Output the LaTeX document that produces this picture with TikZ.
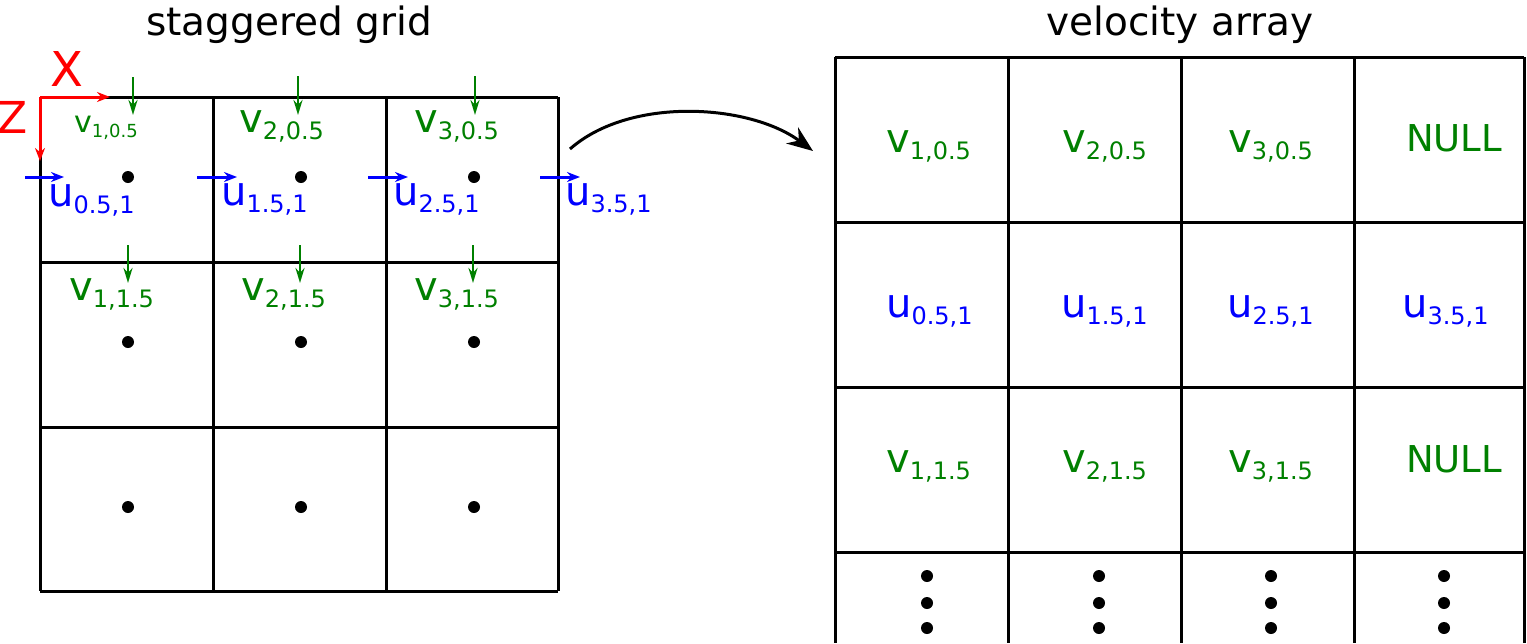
\documentclass[tikz,border=0pt]{standalone}
\usepackage{fontspec}
\setmainfont{DejaVu Sans}
\usetikzlibrary{arrows.meta}
\definecolor{vgreen}{RGB}{0,128,0}
\newcommand{\lowidx}[1]{\raisebox{-7pt}{\fontsize{24}{24}\selectfont #1}}
\newcommand{\smallidx}[1]{\raisebox{-5pt}{\fontsize{18}{18}\selectfont #1}}
\tikzset{
  gridline/.style={line width=3pt},
  vlab/.style={text=vgreen, font=\fontsize{40}{48}\selectfont, inner sep=0pt, anchor=base west},
  ulab/.style={text=blue, font=\fontsize{40}{48}\selectfont, inner sep=0pt, anchor=base west},
  nulllab/.style={text=vgreen, font=\fontsize{37}{44}\selectfont, inner sep=0pt, anchor=base west},
  title/.style={font=\fontsize{39}{46}\selectfont, inner sep=0pt, anchor=base},
  varrow/.style={vgreen, line width=2.5pt, -{Stealth[length=15pt,width=9pt]}},
  uarrow/.style={blue, line width=3pt, -{Stealth[length=13pt,width=10pt]}},
  axisarrow/.style={red, line width=3pt, -{Stealth[length=13pt,width=10pt]}},
}
\begin{document}
\begin{tikzpicture}[x=1pt, y=-1pt]
  \useasboundingbox (0,0) rectangle (1527,643);

  % titles
  \node[title] (gridtitle) at (289,35) {staggered grid};
  \node[title] (arraytitle) at (1180,35) {velocity array};

  % staggered grid
  \draw [gridline] (40,97) -- (558,97);
  \draw [gridline] (40,262) -- (558,262);
  \draw [gridline] (40,427) -- (558,427);
  \draw [gridline] (40,591) -- (558,591);
  \draw [gridline] (40,97) -- (40,591);
  \draw [gridline] (213,97) -- (213,591);
  \draw [gridline] (386,97) -- (386,591);
  \draw [gridline] (558,97) -- (558,591);

  % cell centres
  \fill (128,177) circle [radius=6pt];
  \fill (301,177) circle [radius=6pt];
  \fill (474,177) circle [radius=6pt];
  \fill (128,342) circle [radius=6pt];
  \fill (301,342) circle [radius=6pt];
  \fill (474,342) circle [radius=6pt];
  \fill (128,507) circle [radius=6pt];
  \fill (301,507) circle [radius=6pt];
  \fill (474,507) circle [radius=6pt];

  % axes
  \coordinate (origin) at (40,97);
  \coordinate (xend) at (110,97);
  \coordinate (zend) at (40,161);
  \draw [axisarrow] (origin) -- (xend);
  \draw [axisarrow] (origin) -- (zend);
  \node [text=red, font=\fontsize{48}{54}\selectfont, inner sep=0pt] (xlab) at (67,69) {X};
  \node [text=red, font=\fontsize{44}{50}\selectfont, inner sep=0pt] (zlab) at (13,117) {Z};

  % v arrows
  \coordinate (va1) at (133,77);  \coordinate (vb1) at (133,115);
  \coordinate (va2) at (298,76);  \coordinate (vb2) at (298,115);
  \coordinate (va3) at (475,76);  \coordinate (vb3) at (475,115);
  \coordinate (va4) at (128,245); \coordinate (vb4) at (128,283);
  \coordinate (va5) at (300,245); \coordinate (vb5) at (300,283);
  \coordinate (va6) at (473,245); \coordinate (vb6) at (473,283);
  \draw [varrow] (va1) -- (vb1);
  \draw [varrow] (va2) -- (vb2);
  \draw [varrow] (va3) -- (vb3);
  \draw [varrow] (va4) -- (vb4);
  \draw [varrow] (va5) -- (vb5);
  \draw [varrow] (va6) -- (vb6);

  % u arrows
  \coordinate (ua1) at (25,177);  \coordinate (ub1) at (64,177);
  \coordinate (ua2) at (197,177); \coordinate (ub2) at (237,177);
  \coordinate (ua3) at (368,177); \coordinate (ub3) at (408,177);
  \coordinate (ua4) at (540,177); \coordinate (ub4) at (580,177);
  \draw [uarrow] (ua1) -- (ub1);
  \draw [uarrow] (ua2) -- (ub2);
  \draw [uarrow] (ua3) -- (ub3);
  \draw [uarrow] (ua4) -- (ub4);

  % grid labels
  \node [vlab, font=\fontsize{30}{34}\selectfont] (gv1) at (74,132) {v\smallidx{1,0.5}};
  \node [vlab] (gv2) at (239,132) {v\lowidx{2,0.5}};
  \node [vlab] (gv3) at (414,132) {v\lowidx{3,0.5}};
  \node [vlab] (gv4) at (69,300) {v\lowidx{1,1.5}};
  \node [vlab] (gv5) at (241,300) {v\lowidx{2,1.5}};
  \node [vlab] (gv6) at (414,300) {v\lowidx{3,1.5}};
  \node [ulab] (gu1) at (48,206) {u\lowidx{0.5,1}};
  \node [ulab] (gu2) at (221,205) {u\lowidx{1.5,1}};
  \node [ulab] (gu3) at (393,205) {u\lowidx{2.5,1}};
  \node [ulab] (gu4) at (565,205) {u\lowidx{3.5,1}};

  % mapping arrow
  \coordinate (mapstart) at (570,149);
  \coordinate (mapend) at (813,151);
  \draw [line width=3pt, -{Stealth[length=26pt,width=20pt]}] (mapstart) .. controls (630,96) and (750,104) .. (mapend);

  % velocity array
  \draw [gridline] (835,57) -- (1524,57);
  \draw [gridline] (835,222) -- (1524,222);
  \draw [gridline] (835,387) -- (1524,387);
  \draw [gridline] (835,552) -- (1524,552);
  \draw [gridline] (835,57) -- (835,643);
  \draw [gridline] (1008,57) -- (1008,643);
  \draw [gridline] (1181,57) -- (1181,643);
  \draw [gridline] (1354,57) -- (1354,643);
  \draw [gridline] (1524,57) -- (1524,643);

  \node [vlab] (av1) at (886,152) {v\lowidx{1,0.5}};
  \node [vlab] (av2) at (1062,152) {v\lowidx{2,0.5}};
  \node [vlab] (av3) at (1228,152) {v\lowidx{3,0.5}};
  \node [nulllab] (anull1) at (1406,151) {NULL};
  \node [ulab] (au1) at (886,317) {u\lowidx{0.5,1}};
  \node [ulab] (au2) at (1061,317) {u\lowidx{1.5,1}};
  \node [ulab] (au3) at (1227,317) {u\lowidx{2.5,1}};
  \node [ulab] (au4) at (1402,317) {u\lowidx{3.5,1}};
  \node [vlab] (av4) at (886,472) {v\lowidx{1,1.5}};
  \node [vlab] (av5) at (1062,472) {v\lowidx{2,1.5}};
  \node [vlab] (av6) at (1228,472) {v\lowidx{3,1.5}};
  \node [nulllab] (anull2) at (1406,472) {NULL};

  % more rows
  \fill (927,576) circle [radius=6pt];
  \fill (927,603) circle [radius=6pt];
  \fill (927,628) circle [radius=6pt];
  \fill (1099,576) circle [radius=6pt];
  \fill (1099,603) circle [radius=6pt];
  \fill (1099,628) circle [radius=6pt];
  \fill (1271,576) circle [radius=6pt];
  \fill (1271,603) circle [radius=6pt];
  \fill (1271,628) circle [radius=6pt];
  \fill (1444,576) circle [radius=6pt];
  \fill (1444,603) circle [radius=6pt];
  \fill (1444,628) circle [radius=6pt];
\end{tikzpicture}
\end{document}
